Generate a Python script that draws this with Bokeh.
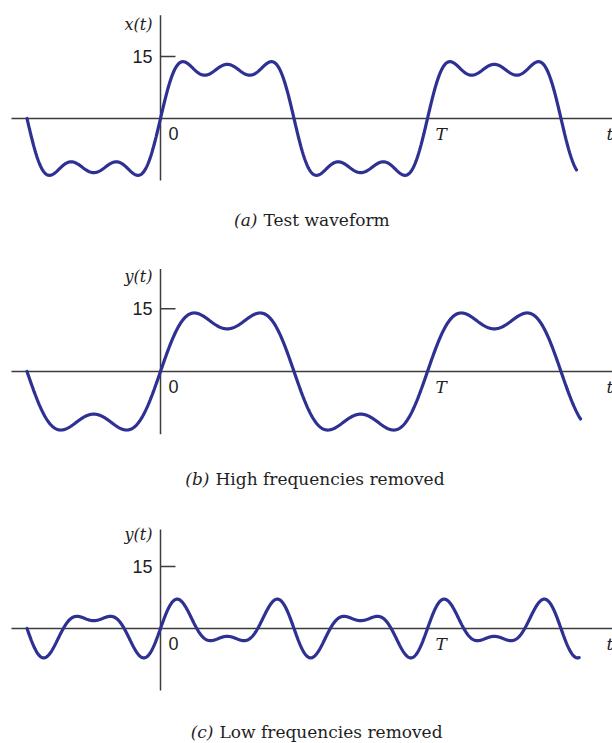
import numpy as np
from bokeh.plotting import figure
from bokeh.layouts import column
from bokeh.models import Range1d
from bokeh.core.properties import value
from bokeh.embed import file_html
from bokeh.resources import INLINE

# ---------------- data ----------------
# Harmonic content of the test waveform (amplitude of each sine harmonic)
harmonic_orders = [1, 3, 5]
harmonic_amps = [15.0, 4.8, 2.9]
# Which harmonics survive in each panel
panel_a_harmonics = [1, 3, 5]
panel_b_harmonics = [1, 3]
panel_c_harmonics = [3, 5]
# Time extent of each drawn curve (in periods T)
curve_t_start = [-0.5, -0.5, -0.5]
curve_t_end = [1.558, 1.573, 1.568]
# Axis texts
y_names = ["x(t)", "y(t)", "y(t)"]
y_tick_values = [15]
y_tick_labels = ["15"]
t_tick_values = [0, 1]
t_tick_labels = ["0", "T"]
caption_tags = ["(a)", "(b)", "(c)"]
caption_texts = ["Test waveform", "High frequencies removed", "Low frequencies removed"]

panel_harmonics = [panel_a_harmonics, panel_b_harmonics, panel_c_harmonics]

# ---------------- layout constants ----------------
W = 612
HEIGHTS = [253, 245, 245]
T_PX = 267.0          # pixels per period
X0_PX = 160.0         # pixel of t = 0 inside each figure
Y0_PX = [118.0, 118.0, 130.0]  # pixel of y = 0 inside each figure (from top)
SCALE = [4.133, 4.18, 4.13]    # pixels per unit of amplitude
V_TOP = [25.0, 24.5, 24.0]
V_BOT = -15.0
CAP_BASE_PX = [101.0, 107.0, 103.0]  # caption baseline below the t axis
CAP_SPLIT_PX = [259.0, 211.0, 215.0]  # x of split between tag and text

CURVE_COLOR = "#2e3192"
AXIS_COLOR = "#3c3c3c"
TEXT_COLOR = "#1e1e1e"


def px_to_t(px):
    return (px - X0_PX) / T_PX


def make_panel(i):
    s = SCALE[i]
    y0 = Y0_PX[i]
    H = HEIGHTS[i]
    p = figure(width=W, height=H, output_backend="svg", toolbar_location=None,
               x_range=Range1d(-X0_PX / T_PX, (W - X0_PX) / T_PX),
               y_range=Range1d(-(H - y0) / s, y0 / s),
               min_border=0, min_border_left=0, min_border_right=0,
               min_border_top=0, min_border_bottom=0)
    p.xaxis.visible = False
    p.yaxis.visible = False
    p.xgrid.visible = False
    p.ygrid.visible = False
    p.outline_line_color = None
    p.background_fill_color = "white"
    p.border_fill_color = "white"

    # axes
    p.segment(x0=[px_to_t(11)], y0=[0], x1=[(W - X0_PX) / T_PX], y1=[0],
              line_color=AXIS_COLOR, line_width=1.5)
    p.segment(x0=[0], y0=[V_BOT], x1=[0], y1=[V_TOP[i]],
              line_color=AXIS_COLOR, line_width=1.5)
    tick_len = 15 / T_PX
    p.segment(x0=[0] * len(y_tick_values), y0=y_tick_values,
              x1=[tick_len] * len(y_tick_values), y1=y_tick_values,
              line_color=AXIS_COLOR, line_width=1.5)

    # curve
    harm = panel_harmonics[i]
    t = np.linspace(curve_t_start[i], curve_t_end[i], 1200)
    y = np.zeros_like(t)
    for n, a in zip(harmonic_orders, harmonic_amps):
        if n in harm:
            y += a * np.sin(2 * np.pi * n * t)
    p.line(t, y, line_color=CURVE_COLOR, line_width=3.2, line_cap="round")

    # tick labels
    p.text(x=[-8 / T_PX] * len(y_tick_values), y=y_tick_values, text=y_tick_labels,
           text_font=value("Liberation Sans"), text_font_size="18px",
           text_align="right", text_baseline="middle", text_color=TEXT_COLOR)
    p.text(x=[-8 / T_PX], y=[22.7], text=[y_names[i]],
           text_font=value("DejaVu Serif"), text_font_style="italic",
           text_font_size="16px", text_align="right", text_baseline="middle",
           text_color=TEXT_COLOR)
    # "0" (sans) and "T" (italic)
    p.text(x=[t_tick_values[0]], y=[0], text=[t_tick_labels[0]],
           x_offset=8, y_offset=15,
           text_font=value("Liberation Sans"), text_font_size="18px",
           text_align="left", text_baseline="middle", text_color=TEXT_COLOR)
    p.text(x=[t_tick_values[1]], y=[0], text=[t_tick_labels[1]],
           x_offset=8, y_offset=15,
           text_font=value("DejaVu Serif"), text_font_style="italic",
           text_font_size="17px",
           text_align="left", text_baseline="middle", text_color=TEXT_COLOR)
    p.text(x=[px_to_t(606)], y=[0], text=["t"], y_offset=15,
           text_font=value("DejaVu Serif"), text_font_style="italic",
           text_font_size="17px",
           text_align="left", text_baseline="middle", text_color=TEXT_COLOR)

    # caption
    cap_y = -CAP_BASE_PX[i] / s
    split_t = px_to_t(CAP_SPLIT_PX[i])
    p.text(x=[split_t], y=[cap_y], text=[caption_tags[i]], x_offset=-2,
           text_font=value("DejaVu Serif"), text_font_style="italic",
           text_font_size="17px", text_align="right",
           text_baseline="alphabetic", text_color=TEXT_COLOR)
    p.text(x=[split_t], y=[cap_y], text=[caption_texts[i]], x_offset=4,
           text_font=value("DejaVu Serif"),
           text_font_size="17px", text_align="left",
           text_baseline="alphabetic", text_color=TEXT_COLOR)
    return p


panels = [make_panel(i) for i in range(3)]
layout = column(*panels, spacing=0)

with open("out.html", "w") as f:
    f.write(file_html(layout, INLINE))
